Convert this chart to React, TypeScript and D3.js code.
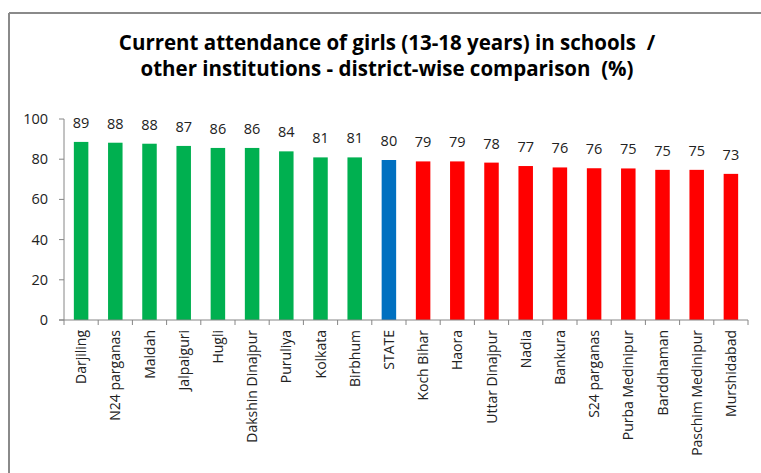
import React from "react";
import * as d3 from "d3";

const districts = [
  "Darjiling", "N24 parganas", "Maldah", "Jalpaiguri", "Hugli", "Dakshin Dinajpur",
  "Puruliya", "Kolkata", "Birbhum", "STATE", "Koch Bihar", "Haora", "Uttar Dinajpur",
  "Nadia", "Bankura", "S24 parganas", "Purba Medinipur", "Barddhaman", "Paschim Medinipur", "Murshidabad",
];
const values = [88.6, 88.2, 87.7, 86.6, 85.6, 85.6, 83.9, 80.9, 80.9, 79.6, 78.9, 78.9, 78.3, 76.6, 75.9, 75.5, 75.4, 74.7, 74.7, 72.7];
const groups = ["high", "high", "high", "high", "high", "high", "high", "high", "high", "state", "low", "low", "low", "low", "low", "low", "low", "low", "low", "low"];
const yTicks = [0, 20, 40, 60, 80, 100];
const titleLines = [
  "Current attendance of girls (13-18 years) in schools  /",
  "other institutions - district-wise comparison  (%)",
];

const colorOf: Record<string, string> = { high: "#00B050", state: "#0070C0", low: "#FF0000" };

export default function App() {
  const W = 761, H = 473;
  const left = 64, right = 748, top = 119, bottom = 320;
  const x = d3.scaleBand<string>().domain(districts).range([left, right]).paddingInner(0.576).paddingOuter(0.288);
  const y = d3.scaleLinear().domain([0, 100]).range([bottom, top]);
  const font = "'Open Sans', sans-serif";
  const axisColor = "#868686";
  const step = x.step();
  const tickXs = d3.range(districts.length + 1).map((i) => left + i * step);

  return (
    <svg width={W} height={H} style={{ position: "absolute", left: 0, top: 0 }}>
      <rect x={0} y={0} width={W} height={H} fill="#fff" />
      <line x1={9} y1={13} x2={W} y2={13} stroke="#8a8a8a" strokeWidth={2} />
      <line x1={9} y1={13} x2={9} y2={H} stroke="#8a8a8a" strokeWidth={2} />
      {titleLines.map((t, i) => (
        <text key={i} x={387} y={50 + i * 26} textAnchor="middle" fontFamily={font} fontWeight="bold" fontSize={20.5} fill="#000" style={{ whiteSpace: "pre" }}>
          {t}
        </text>
      ))}
      {districts.map((d, i) => (
        <rect key={d} x={x(d)} y={y(values[i])} width={x.bandwidth()} height={y(0) - y(values[i])} fill={colorOf[groups[i]]} />
      ))}
      {districts.map((d, i) => (
        <text key={"v" + d} x={(x(d) as number) + x.bandwidth() / 2} y={y(values[i]) - 14} textAnchor="middle" fontFamily={font} fontSize={14.5} fill="#222">
          {Math.round(values[i])}
        </text>
      ))}
      <line x1={left} y1={top} x2={left} y2={bottom} stroke={axisColor} />
      {yTicks.map((t) => (
        <g key={t}>
          <line x1={left - 5} x2={left} y1={y(t)} y2={y(t)} stroke={axisColor} />
          <text x={48} y={y(t) + 5} textAnchor="end" fontFamily={font} fontSize={14.5} fill="#222">
            {t}
          </text>
        </g>
      ))}
      <line x1={left - 5} y1={bottom} x2={right} y2={bottom} stroke={axisColor} />
      {tickXs.map((tx, i) => (
        <line key={i} x1={tx} x2={tx} y1={bottom} y2={bottom + 5} stroke={axisColor} />
      ))}
      {districts.map((d) => {
        const cx = (x(d) as number) + x.bandwidth() / 2;
        return (
          <text key={"l" + d} transform={`translate(${cx + 5},330) rotate(-90)`} textAnchor="end" fontFamily={font} fontSize={14} fill="#222">
            {d}
          </text>
        );
      })}
    </svg>
  );
}
